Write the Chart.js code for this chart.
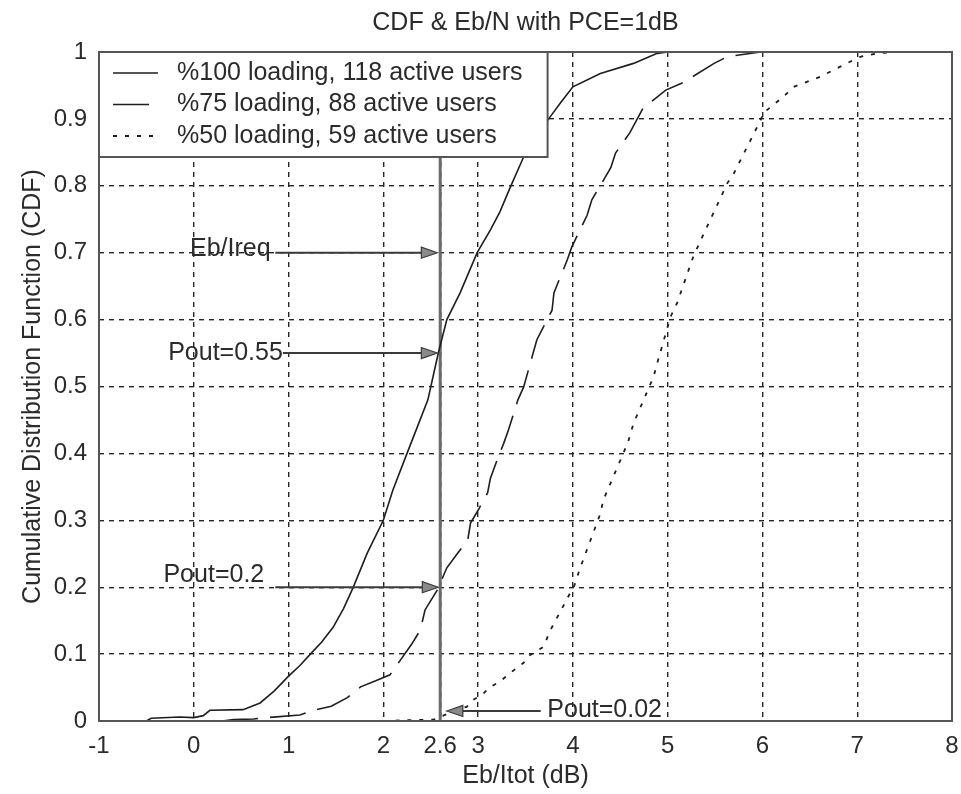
<!DOCTYPE html>
<html>
<head>
<meta charset="utf-8">
<script src="https://cdn.jsdelivr.net/npm/chart.js@4.4.1/dist/chart.umd.min.js"></script>
<style>
  html, body { margin: 0; padding: 0; background: #ffffff; }
  canvas { display: block; }
</style>
</head>
<body>
<canvas id="cdf" width="961" height="794"></canvas>
<script>
// ---- text ----
const titleText = 'CDF & Eb/N with PCE=1dB';
const xAxisTitle = 'Eb/Itot (dB)';
const yAxisTitle = 'Cumulative Distribution Function (CDF)';
const seriesLabels = [
  '%100 loading, 118 active users',
  '%75 loading, 88 active users',
  '%50 loading, 59 active users'
];

// ---- ticks ----
const xTickValues = [-1, 0, 1, 2, 2.6, 3, 4, 5, 6, 7, 8];
const yTickValues = [0, 0.1, 0.2, 0.3, 0.4, 0.5, 0.6, 0.7, 0.8, 0.9, 1];

// ---- empirical CDFs of Eb/Itot (dB) ----
const load100X = [-1, -0.5, -0.45, -0.15, 0.0, 0.1, 0.17, 0.52, 0.7, 0.85, 1.0, 1.12, 1.23, 1.35, 1.47, 1.58, 1.68, 1.83, 2.0, 2.1, 2.25, 2.36, 2.47, 2.58, 2.67, 2.81, 2.99, 3.13, 3.23, 3.34, 3.48, 3.62, 3.76, 3.87, 4.0, 4.29, 4.64, 4.89, 5.0];
const load100Y = [0, 0, 0.004, 0.006, 0.005, 0.008, 0.016, 0.017, 0.027, 0.045, 0.067, 0.083, 0.10, 0.118, 0.14, 0.168, 0.199, 0.251, 0.30, 0.345, 0.40, 0.44, 0.48, 0.55, 0.60, 0.64, 0.70, 0.734, 0.761, 0.798, 0.843, 0.875, 0.903, 0.924, 0.948, 0.968, 0.983, 0.998, 1.0];

const load75X = [0.3, 0.42, 0.63, 0.77, 1.12, 1.26, 1.45, 1.62, 1.76, 1.92, 2.07, 2.18, 2.3, 2.39, 2.44, 2.57, 2.67, 2.78, 2.89, 2.92, 3.0, 3.1, 3.13, 3.2, 3.27, 3.32, 3.42, 3.48, 3.62, 3.78, 3.8, 3.94, 3.99, 4.15, 4.2, 4.4, 4.45, 4.6, 4.74, 4.98, 5.16, 5.49, 5.63, 5.98, 6.1];
const load75Y = [0, 0.002, 0.003, 0.005, 0.009, 0.016, 0.022, 0.035, 0.051, 0.06, 0.069, 0.091, 0.115, 0.136, 0.166, 0.196, 0.229, 0.25, 0.27, 0.296, 0.315, 0.341, 0.363, 0.39, 0.415, 0.435, 0.48, 0.499, 0.57, 0.614, 0.64, 0.689, 0.709, 0.756, 0.779, 0.827, 0.849, 0.879, 0.916, 0.943, 0.954, 0.983, 0.993, 1.0, 1.0];

const load50X = [2.0, 2.2, 2.53, 2.7, 2.78, 2.88, 2.94, 3.04, 3.13, 3.23, 3.34, 3.48, 3.52, 3.69, 3.76, 3.97, 4.0, 4.08, 4.29, 4.32, 4.58, 4.64, 4.85, 4.89, 5.03, 5.1, 5.27, 5.35, 5.63, 5.7, 5.98, 6.01, 6.22, 6.33, 6.61, 6.75, 6.96, 7.04, 7.21, 7.4];
const load50Y = [0, 0.001, 0.002, 0.012, 0.019, 0.021, 0.031, 0.039, 0.051, 0.059, 0.072, 0.087, 0.096, 0.111, 0.135, 0.191, 0.196, 0.23, 0.31, 0.33, 0.416, 0.445, 0.514, 0.535, 0.604, 0.625, 0.694, 0.719, 0.804, 0.819, 0.898, 0.909, 0.933, 0.948, 0.963, 0.973, 0.988, 0.993, 0.998, 1.0];

// ---- required Eb/I threshold ----
const ebIreqValue = 2.6;
const thresholdSpanY = [0, 1];

// ---- arrow annotations ----
const noteTexts  = ['Eb/Ireq', 'Pout=0.55', 'Pout=0.2', 'Pout=0.02'];
const noteTextX  = [-0.04, -0.27, -0.32, 3.73];
const noteTextY  = [0.705, 0.55, 0.218, 0.016];
const arrowFromX = [0.86, 0.94, 0.86, 3.66];
const arrowToX   = [2.57, 2.57, 2.58, 2.67];
const arrowAtY   = [0.70, 0.55, 0.20, 0.015];

const FONT = "'Liberation Sans', Arial, Helvetica, sans-serif";
const INK = '#2b2b2b';
Chart.defaults.font.family = FONT;
Chart.defaults.color = INK;

const toPoints = (xs, ys) => xs.map((x, i) => ({ x: x, y: ys[i] }));

// frame, arrows with their labels, and the in-axes legend
const overlayPlugin = {
  id: 'overlay',
  afterDatasetsDraw(chart) {
    const { ctx, chartArea: a, scales: { x, y } } = chart;
    ctx.save();

    // axes box
    ctx.setLineDash([]);
    ctx.strokeStyle = '#555555';
    ctx.lineWidth = 2;
    ctx.strokeRect(a.left, a.top, a.right - a.left, a.bottom - a.top);

    // arrows
    ctx.font = '25px ' + FONT;
    ctx.textBaseline = 'middle';
    ctx.textAlign = 'left';
    noteTexts.forEach((txt, i) => {
      const py = y.getPixelForValue(arrowAtY[i]);
      const x0 = x.getPixelForValue(arrowFromX[i]);
      const x1 = x.getPixelForValue(arrowToX[i]);
      const dir = x1 > x0 ? 1 : -1;
      const headLen = 16, headHalf = 5.5;
      ctx.strokeStyle = '#3a3a3a';
      ctx.lineWidth = 2;
      ctx.beginPath();
      ctx.moveTo(x0, py);
      ctx.lineTo(x1 - dir * headLen, py);
      ctx.stroke();
      ctx.beginPath();
      ctx.moveTo(x1, py);
      ctx.lineTo(x1 - dir * headLen, py - headHalf);
      ctx.lineTo(x1 - dir * headLen, py + headHalf);
      ctx.closePath();
      ctx.fillStyle = '#8a8a8a';
      ctx.fill();
      ctx.lineWidth = 1.2;
      ctx.stroke();
      ctx.fillStyle = INK;
      ctx.fillText(txt, x.getPixelForValue(noteTextX[i]), y.getPixelForValue(noteTextY[i]));
    });

    // legend
    const sets = chart.data.datasets.slice(0, seriesLabels.length);
    ctx.font = '25px ' + FONT;
    const textX = a.left + 78;
    const maxW = Math.max(...sets.map(d => ctx.measureText(d.label).width));
    const boxR = textX + maxW + 25;
    const rowH = 31.5, firstRow = a.top + 21;
    const boxB = a.top + 105;
    ctx.fillStyle = '#ffffff';
    ctx.fillRect(a.left, a.top, boxR - a.left, boxB - a.top);
    ctx.strokeStyle = '#555555';
    ctx.lineWidth = 2;
    ctx.strokeRect(a.left, a.top, boxR - a.left, boxB - a.top);
    sets.forEach((d, i) => {
      const ry = firstRow + i * rowH;
      ctx.setLineDash(d.borderDash || []);
      ctx.strokeStyle = d.borderColor;
      ctx.lineWidth = d.borderWidth;
      ctx.beginPath();
      ctx.moveTo(a.left + 14, ry);
      ctx.lineTo(a.left + 59, ry);
      ctx.stroke();
      ctx.setLineDash([]);
      ctx.fillStyle = INK;
      ctx.fillText(d.label, textX, ry);
    });
    ctx.restore();
  }
};

const gridStyle = { color: '#262626', lineWidth: 1.4, drawTicks: false };
const borderStyle = { display: false, dash: [5, 5] };

new Chart(document.getElementById('cdf').getContext('2d'), {
  type: 'line',
  data: {
    datasets: [
      { label: seriesLabels[0], data: toPoints(load100X, load100Y), borderColor: '#1e1e1e', borderWidth: 1.6, pointRadius: 0, tension: 0, fill: false },
      { label: seriesLabels[1], data: toPoints(load75X, load75Y), borderColor: '#1e1e1e', borderWidth: 1.6, borderDash: [36, 12], pointRadius: 0, tension: 0, fill: false },
      { label: seriesLabels[2], data: toPoints(load50X, load50Y), borderColor: '#1e1e1e', borderWidth: 1.8, borderDash: [4, 8], pointRadius: 0, tension: 0, fill: false },
      { label: 'Eb/Ireq', data: thresholdSpanY.map(v => ({ x: ebIreqValue, y: v })), borderColor: '#6a6a6a', borderWidth: 3, pointRadius: 0, tension: 0, fill: false }
    ]
  },
  options: {
    responsive: false,
    animation: false,
    devicePixelRatio: 1,
    layout: { padding: { left: 0, right: 0, top: 0, bottom: 0 } },
    plugins: {
      legend: { display: false },
      tooltip: { enabled: false },
      title: {
        display: true, text: titleText, fullSize: false, color: INK,
        font: { size: 25, weight: 'normal' },
        padding: { top: 8, bottom: 14 }
      }
    },
    scales: {
      x: {
        type: 'linear', min: -1, max: 8,
        afterBuildTicks: s => { s.ticks = xTickValues.map(v => ({ value: v })); },
        afterFit: s => { s.height = 73; s.paddingLeft = 0; s.paddingRight = 9; },
        ticks: { autoSkip: false, maxRotation: 0, padding: 11, font: { size: 24 }, color: INK, callback: v => String(v) },
        grid: gridStyle,
        border: borderStyle,
        title: { display: true, text: xAxisTitle, color: INK, font: { size: 25 }, padding: { top: 0, bottom: 3 } }
      },
      y: {
        type: 'linear', min: 0, max: 1,
        afterBuildTicks: s => { s.ticks = yTickValues.map(v => ({ value: v })); },
        afterFit: s => { s.width = 99; },
        ticks: { padding: 12, font: { size: 24 }, color: INK, callback: v => String(Math.round(v * 10) / 10) },
        grid: gridStyle,
        border: borderStyle,
        title: { display: true, text: yAxisTitle, color: INK, font: { size: 25 }, padding: { top: 18, bottom: 0 } }
      }
    }
  },
  plugins: [overlayPlugin]
});
</script>
</body>
</html>
